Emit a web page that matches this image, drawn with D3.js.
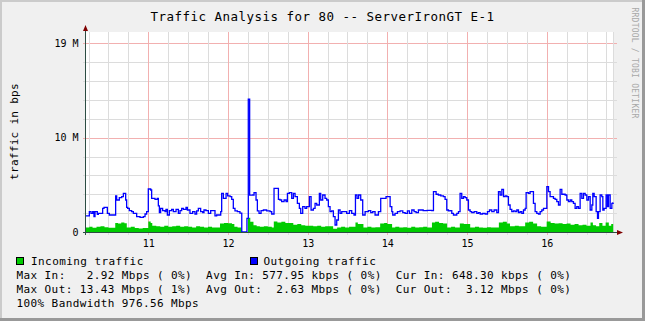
<!DOCTYPE html>
<html><head><meta charset="utf-8">
<script src="https://cdn.jsdelivr.net/npm/d3@7"></script>
<style>
body{margin:0;background:#F0F0F0}
svg{display:block}
text{font-family:"DejaVu Sans Mono",monospace;white-space:pre}
</style>
</head><body>
<svg id="c" width="645" height="321"></svg>
<script>
// ---------------- data ----------------
const title = "Traffic Analysis for 80 -- ServerIronGT E-1";
const yAxisTitle = "traffic in bps";
const watermark = "RRDTOOL / TOBI OETIKER";
const xTicks = [11, 12, 13, 14, 15, 16];
const xMinorStep = 0.25;
const xDomain = [10.218, 16.845];
const yTicks = [0, 10, 20];
const yTickLabels = ["0", "10 M", "19 M"];
const yMinorTicks = [2, 4, 6, 8, 12, 14, 16, 18];
const yDomain = [0, 21.2];
const seriesNames = ["Incoming traffic", "Outgoing traffic"];
const seriesColors = ["#00CC00", "#0000FF"];
const statLines = [
  "Max In:   2.92 Mbps ( 0%)  Avg In: 577.95 kbps ( 0%)  Cur In: 648.30 kbps ( 0%)",
  "Max Out: 13.43 Mbps ( 1%)  Avg Out:  2.63 Mbps ( 0%)  Cur Out:  3.12 Mbps ( 0%)",
  "100% Bandwidth 976.56 Mbps"
];
// [day, Mbps]
const incoming = [
[10.218,0.48],[10.26,0.55],[10.30,0.46],[10.35,0.55],[10.40,0.60],[10.45,0.50],[10.50,0.46],
[10.585,0.95],[10.62,0.90],[10.66,1.02],[10.70,0.94],[10.73,0.48],[10.78,0.55],[10.83,0.42],
[10.88,0.38],[10.93,0.42],[11.00,1.12],[11.03,0.95],[11.05,0.66],[11.10,0.60],[11.15,0.55],
[11.20,0.66],[11.25,0.55],[11.30,0.60],[11.35,0.66],[11.40,0.55],[11.45,0.60],[11.50,0.55],
[11.55,0.48],[11.60,0.60],[11.65,0.55],[11.70,0.48],[11.75,0.55],[11.80,0.48],[11.90,0.90],
[11.95,0.96],[12.00,0.94],[12.05,0.84],[12.08,0.55],[12.12,0.48],[12.173,0],[12.25,1.50],
[12.28,1.08],[12.32,0.72],[12.36,0.60],[12.40,0.55],[12.45,0.60],[12.50,0.55],[12.55,0.48],
[12.575,1.12],[12.62,1.02],[12.67,1.08],[12.72,0.96],[12.82,0.78],[12.87,0.84],[12.92,0.72],
[12.97,0.66],[13.07,0.60],[13.12,0.66],[13.17,0.55],[13.22,0.60],[13.32,0.34],[13.37,0.47],
[13.42,0.55],[13.47,0.48],[13.52,0.55],[13.60,1.02],[13.63,0.84],[13.70,0.47],[13.75,0.55],
[13.80,0.48],[13.85,0.50],[13.91,0.89],[13.96,0.96],[14.00,0.84],[14.06,0.48],[14.10,0.55],
[14.15,0.48],[14.20,0.50],[14.25,0.46],[14.30,0.55],[14.35,0.48],[14.40,0.50],[14.45,0.55],
[14.50,0.48],[14.56,1.02],[14.60,1.08],[14.65,0.96],[14.70,0.90],[14.75,0.48],[14.80,0.55],
[14.85,0.48],[14.91,0.90],[14.96,0.84],[15.04,0.48],[15.10,0.55],[15.15,0.48],[15.20,0.46],
[15.25,0.50],[15.30,0.48],[15.40,1.02],[15.45,1.08],[15.50,0.90],[15.54,0.60],[15.60,0.66],
[15.65,0.60],[15.73,1.02],[15.78,1.08],[15.83,0.90],[15.88,0.60],[15.93,0.55],[16.00,1.10],
[16.05,0.96],[16.10,0.90],[16.15,0.94],[16.20,0.84],[16.25,0.89],[16.30,0.78],[16.35,0.84],
[16.40,0.72],[16.45,0.78],[16.50,0.66],[16.55,1.02],[16.58,0.72],[16.62,0.60],[16.66,0.96],
[16.70,0.66],[16.74,1.02],[16.78,0.66],[16.81,0.84],[16.834,0.84]
];
const outgoing = [
[10.218,1.70],[10.260,2.16],[10.281,1.98],[10.302,2.16],[10.318,1.63],[10.331,2.16],[10.360,1.87],
[10.373,1.98],[10.427,2.51],[10.444,2.62],[10.486,1.98],[10.511,1.80],[10.590,3.82],[10.603,3.39],
[10.636,3.64],[10.666,3.75],[10.687,4.10],[10.716,3.39],[10.728,2.62],[10.741,2.51],[10.762,2.26],
[10.791,2.16],[10.812,1.98],[10.854,1.63],[10.896,1.56],[10.938,1.63],[10.959,1.91],[10.979,2.16],
[11.000,4.56],[11.030,4.45],[11.042,3.57],[11.084,3.46],[11.113,3.57],[11.126,2.76],[11.139,2.05],
[11.155,2.51],[11.180,2.26],[11.210,2.16],[11.222,2.40],[11.239,1.80],[11.264,2.26],[11.293,2.40],
[11.314,2.16],[11.348,2.40],[11.377,1.98],[11.398,2.26],[11.419,2.51],[11.440,2.40],[11.473,2.62],
[11.490,2.33],[11.523,1.98],[11.557,2.16],[11.586,1.91],[11.607,2.23],[11.628,2.51],[11.657,2.16],
[11.683,2.05],[11.699,2.33],[11.724,2.26],[11.754,1.98],[11.783,2.26],[11.808,2.26],[11.837,1.70],
[11.858,1.80],[11.909,2.16],[11.921,4.10],[11.942,3.57],[11.976,4.10],[11.996,3.82],[12.026,3.75],
[12.047,3.46],[12.067,2.51],[12.088,2.23],[12.118,2.16],[12.150,2.00],[12.173,0],[12.238,1.45],
[12.255,14.07],[12.272,3.90],[12.310,3.92],[12.327,4.17],[12.352,3.39],[12.369,2.23],[12.390,1.98],
[12.415,2.26],[12.444,2.33],[12.486,2.23],[12.528,2.16],[12.549,1.91],[12.578,4.63],[12.612,4.63],
[12.633,3.46],[12.653,3.39],[12.674,3.22],[12.704,3.39],[12.729,3.22],[12.746,4.10],[12.771,4.17],
[12.800,3.57],[12.821,4.10],[12.842,3.75],[12.871,3.04],[12.896,2.51],[12.913,1.98],[12.938,2.69],
[12.967,2.51],[12.988,2.69],[13.022,3.75],[13.043,2.33],[13.072,2.51],[13.093,3.04],[13.114,2.86],
[13.147,4.10],[13.164,3.39],[13.189,3.92],[13.218,3.57],[13.239,3.39],[13.260,2.69],[13.281,2.16],
[13.302,2.23],[13.323,1.63],[13.344,0.74],[13.365,1.27],[13.386,2.33],[13.407,1.98],[13.428,2.16],
[13.490,1.98],[13.524,2.26],[13.553,1.98],[13.582,1.80],[13.600,3.92],[13.620,3.57],[13.640,3.92],
[13.666,3.39],[13.691,1.80],[13.721,2.16],[13.763,2.26],[13.792,2.05],[13.817,2.16],[13.846,1.80],
[13.888,2.16],[13.917,3.57],[13.951,3.57],[13.984,3.75],[14.014,3.75],[14.035,2.69],[14.056,2.16],
[14.068,1.80],[14.097,1.98],[14.127,2.16],[14.160,2.23],[14.194,2.05],[14.223,1.98],[14.252,2.23],
[14.277,1.98],[14.307,2.33],[14.336,2.16],[14.361,2.05],[14.390,2.33],[14.450,2.26],[14.500,2.30],
[14.558,2.26],[14.579,4.28],[14.612,4.00],[14.641,3.92],[14.671,3.82],[14.704,3.75],[14.725,3.46],
[14.746,2.33],[14.767,2.23],[14.788,2.26],[14.809,1.98],[14.830,1.80],[14.872,1.98],[14.893,2.16],
[14.913,4.10],[14.934,3.57],[14.955,3.75],[14.976,3.64],[14.997,3.39],[15.018,2.33],[15.039,2.16],
[15.060,2.05],[15.089,2.16],[15.123,1.98],[15.144,2.05],[15.165,1.91],[15.198,1.98],[15.227,1.91],
[15.257,2.16],[15.282,2.33],[15.311,2.16],[15.340,2.33],[15.374,2.05],[15.395,4.28],[15.416,3.92],
[15.437,4.52],[15.458,3.75],[15.479,3.82],[15.499,3.75],[15.520,2.86],[15.541,2.40],[15.562,2.16],
[15.583,2.23],[15.604,2.16],[15.625,2.33],[15.646,2.05],[15.667,2.16],[15.688,1.98],[15.709,2.33],
[15.730,2.51],[15.742,4.17],[15.771,4.10],[15.792,4.28],[15.813,4.28],[15.834,3.04],[15.855,2.16],
[15.876,1.98],[15.897,1.91],[15.918,2.16],[15.939,2.33],[15.960,2.51],[16.002,4.81],[16.023,4.28],
[16.043,3.75],[16.085,3.57],[16.106,3.46],[16.127,3.22],[16.148,2.86],[16.169,4.52],[16.190,4.00],
[16.232,3.92],[16.253,3.39],[16.274,3.22],[16.295,3.39],[16.315,3.22],[16.336,3.04],[16.357,2.51],
[16.378,2.69],[16.399,2.51],[16.420,4.10],[16.441,3.57],[16.462,4.10],[16.483,3.92],[16.504,3.39],
[16.525,3.75],[16.546,2.33],[16.567,2.86],[16.579,4.10],[16.596,3.75],[16.621,2.16],[16.638,1.45],
[16.650,2.16],[16.671,3.92],[16.692,3.75],[16.705,2.33],[16.721,2.51],[16.746,3.92],[16.763,2.69],
[16.776,3.92],[16.797,2.51],[16.818,3.04],[16.834,3.11]
];

// ---------------- layout ----------------
const W = 645, H = 321;
const X0 = 86, X1 = 614, Y0 = 232, Y1 = 32;
const svg = d3.select("#c");

const x = d3.scaleLinear().domain(xDomain).range([X0, X1]);
const y = d3.scaleLinear().domain(yDomain).range([Y0, Y1]);
const pxi = v => Math.round(x(v));

// background + border
svg.append("rect").attr("width", W).attr("height", H).attr("fill", "#F0F0F0");
svg.append("rect").attr("x", 0).attr("y", 0).attr("width", 2).attr("height", H).attr("fill", "#CBCBCB");
svg.append("rect").attr("x", 0).attr("y", 0).attr("width", W).attr("height", 2).attr("fill", "#CBCBCB");
svg.append("rect").attr("x", 0).attr("y", H - 3).attr("width", W).attr("height", 3).attr("fill", "#999999");
svg.append("rect").attr("x", W - 3).attr("y", 0).attr("width", 3).attr("height", H).attr("fill", "#999999");

// canvas
svg.append("rect").attr("x", X0).attr("y", Y1).attr("width", X1 - X0).attr("height", Y0 - Y1).attr("fill", "#FFFFFF");

// grid colours
const gMinor = "#DCDCDC", gMajor = "#F2B0B0";

// horizontal grid via d3 axes (tick lines spanning the canvas)
function hGrid(values, col) {
  const g = svg.append("g").attr("transform", `translate(${X0 - 3},0)`)
    .attr("shape-rendering", "crispEdges")
    .call(d3.axisRight(y).tickValues(values).tickSize(X1 - X0 + 6).tickFormat(""));
  g.select(".domain").remove();
  g.selectAll(".tick line").attr("stroke", col).attr("stroke-width", 1);
}
hGrid(yMinorTicks, gMinor);
hGrid(yTicks.filter(v => v > 0), gMajor);

// vertical grid
const xMinor = [];
for (let v = Math.ceil(xDomain[0] / xMinorStep) * xMinorStep; v < xDomain[1]; v += xMinorStep) {
  if (!xTicks.some(t => Math.abs(t - v) < 1e-6)) xMinor.push(v);
}
const vg = svg.append("g");
xMinor.forEach(v => vg.append("rect").attr("x", pxi(v)).attr("y", Y1).attr("width", 1)
  .attr("height", Y0 + 3 - Y1).attr("fill", gMinor));
xTicks.forEach(v => vg.append("rect").attr("x", pxi(v)).attr("y", Y1).attr("width", 1)
  .attr("height", Y0 + 3 - Y1).attr("fill", gMajor));
vg.append("rect").attr("x", X1 - 1).attr("y", Y1).attr("width", 1).attr("height", Y0 - Y1).attr("fill", gMinor);

// data
const area = d3.area().curve(d3.curveStepAfter)
  .x(d => x(d[0])).y0(Y0 + 0.5).y1(d => y(d[1]));
svg.append("path").datum(incoming.concat([[xDomain[1] - 0.01, incoming[incoming.length-1][1]]]))
  .attr("d", area).attr("fill", seriesColors[0]);

const line = d3.line().curve(d3.curveStepAfter)
  .x(d => x(d[0])).y(d => y(d[1]));
svg.append("path").datum(outgoing.concat([[xDomain[1] - 0.01, outgoing[outgoing.length-1][1]]]))
  .attr("d", line).attr("fill", "none").attr("stroke", seriesColors[1])
  .attr("stroke-width", 1.3).attr("stroke-linejoin", "miter");

// axes
const axisCol = "#2C4D43", arrowCol = "#7F0000";
svg.append("rect").attr("x", X0 - 1).attr("y", Y1 - 4).attr("width", 1).attr("height", Y0 + 3 - (Y1 - 4))
  .attr("fill", axisCol);
svg.append("rect").attr("x", X0 - 3).attr("y", Y0).attr("width", X1 + 4 - (X0 - 3)).attr("height", 1)
  .attr("fill", axisCol);
svg.append("path").attr("d", `M${X0-3},${Y1-1}L${X0-0.5},${Y1-7}L${X0+2},${Y1-1}Z`).attr("fill", arrowCol);
svg.append("path").attr("d", `M${X1+3},${Y0-2}L${X1+9},${Y0+0.5}L${X1+3},${Y0+3}Z`).attr("fill", arrowCol);

// tick labels
yTicks.forEach((d, i) => {
  svg.append("text").attr("x", 78.5).attr("y", y(d) + 3.6).attr("text-anchor", "end")
    .attr("font-size", 10).attr("fill", "#000").text(yTickLabels[i]);
});
xTicks.forEach(d => {
  svg.append("text").attr("x", x(d) + 0.5).attr("y", 246.5).attr("text-anchor", "middle")
    .attr("font-size", 10).attr("fill", "#000").text(String(d));
});

// title
svg.append("text").attr("x", W / 2).attr("y", 20.5).attr("text-anchor", "middle")
  .attr("font-size", 12.5).attr("letter-spacing", 0.47).attr("fill", "#000").text(title);
// y axis title
svg.append("text").attr("transform", "translate(18,131.5) rotate(-90)").attr("text-anchor", "middle")
  .attr("font-size", 11).attr("letter-spacing", 0.3).attr("fill", "#000").text(yAxisTitle);
// watermark
svg.append("text").attr("transform", "translate(631.5,7.5) rotate(90)").attr("text-anchor", "start")
  .attr("font-size", 8).attr("letter-spacing", 0.23).attr("fill", "#A8A8A8").text(watermark);

// legend
const legX = [16, 250], legTX = [31, 263.5];
seriesNames.forEach((n, i) => {
  svg.append("rect").attr("x", legX[i] + 0.5).attr("y", 257.5).attr("width", 7).attr("height", 7)
    .attr("fill", seriesColors[i]).attr("stroke", "#000").attr("stroke-width", 1);
  svg.append("text").attr("x", legTX[i]).attr("y", 265).attr("font-size", 11)
    .attr("letter-spacing", 0.42).attr("fill", "#000").text(n);
});
const statY = [279.3, 293.3, 307.3];
statLines.forEach((s, i) => {
  svg.append("text").attr("x", 16.5).attr("y", statY[i]).attr("font-size", 11)
    .attr("letter-spacing", 0.40).attr("fill", "#000").attr("xml:space", "preserve").text(s);
});
</script>
</body></html>
